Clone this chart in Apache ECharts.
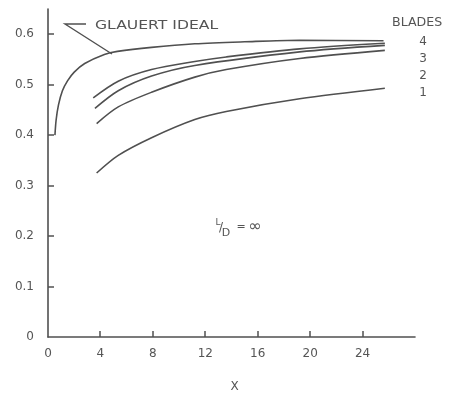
<!DOCTYPE html>
<html>
<head>
<meta charset="utf-8">
<script src="https://cdn.jsdelivr.net/npm/echarts@6/dist/echarts.min.js"></script>
<style>
  html, body { margin: 0; padding: 0; background: #fff; }
  #main { width: 460px; height: 398px; }
</style>
</head>
<body>
<div id="main"></div>
<script>
// values (x, efficiency)
const glauert = [[0.53, 0.400], [0.62, 0.430], [0.8, 0.460], [1.1, 0.488], [1.5, 0.508], [2.0, 0.525], [2.8, 0.542], [4.3, 0.560], [5.3, 0.566], [7.9, 0.574], [11.2, 0.581], [15, 0.585], [19.2, 0.588], [25.6, 0.587]];
const blades4 = [[3.45, 0.474], [5.36, 0.507], [7.9, 0.530], [11.2, 0.546], [13.6, 0.555], [19.2, 0.571], [25.7, 0.582]];
const blades3 = [[3.58, 0.453], [5.36, 0.488], [7.9, 0.517], [11.2, 0.538], [19.2, 0.565], [25.7, 0.578]];
const blades2 = [[3.71, 0.423], [5.36, 0.456], [7.9, 0.485], [11.2, 0.515], [13.6, 0.530], [19.2, 0.552], [25.7, 0.568]];
const blades1 = [[3.71, 0.325], [5.36, 0.360], [7.9, 0.395], [11.2, 0.431], [13.6, 0.447], [19.2, 0.472], [25.7, 0.493]];
const xTicks = [4, 8, 12, 16, 20, 24];
const yTicks = [0.1, 0.2, 0.3, 0.4, 0.5, 0.6];
const xLabels = [0, 4, 8, 12, 16, 20, 24];
const yLabels = [0, 0.1, 0.2, 0.3, 0.4, 0.5, 0.6];
const bladeNames = ['4', '3', '2', '1'];

const ink = '#505050';
const font = 'DejaVu Sans';

const chart = echarts.init(document.getElementById('main'));

function curve(name, data) {
  return {
    name: name,
    type: 'line',
    data: data,
    smooth: 0.3,
    showSymbol: false,
    lineStyle: { color: ink, width: 1.6 },
    silent: true
  };
}

// small text helper for the hand lettering
function txt(x, y, s, size, align) {
  return {
    type: 'text', x: x, y: y,
    style: { text: s, fill: '#555', font: size + 'px "' + font + '"', textAlign: align || 'left', textVerticalAlign: 'middle' }
  };
}

chart.setOption({
  animation: false,
  grid: { left: 48, right: 45, top: 9, bottom: 50 },
  xAxis: {
    type: 'value', min: 0, max: 28, interval: 4,
    name: 'X', nameLocation: 'middle', nameGap: 44,
    nameTextStyle: { color: '#555', fontSize: 12, fontFamily: font, padding: [0, 0, 0, 6] },
    splitLine: { show: false },
    axisLine: { onZero: false, lineStyle: { color: ink, width: 1.6 } },
    axisTick: { show: false },
    axisLabel: {
      color: '#555', fontSize: 12, fontFamily: font, margin: 11,
      formatter: v => xLabels.indexOf(v) >= 0 ? String(v) : ''
    }
  },
  yAxis: {
    type: 'value', min: 0, max: 0.65, interval: 0.1,
    splitLine: { show: false },
    axisLine: { show: true, onZero: false, lineStyle: { color: ink, width: 1.6 } },
    axisTick: { show: false },
    axisLabel: {
      color: '#555', fontSize: 12, fontFamily: font, margin: 14,
      formatter: v => {
        const r = Math.round(v * 100) / 100;
        if (yLabels.indexOf(r) < 0) return '';
        return r === 0 ? '0' : r.toFixed(1);
      }
    }
  },
  series: [
    curve('Glauert ideal', glauert),
    curve('4', blades4),
    curve('3', blades3),
    curve('2', blades2),
    curve('1', blades1)
  ]
});

const notes = [
  { type: 'polyline', shape: { points: [[86, 24], [65, 24], [112, 54]] }, style: { stroke: ink, lineWidth: 1.4, fill: null } },
  Object.assign(txt(95, 26, 'GLAUERT IDEAL', 12), { scaleX: 1.3 }),
  Object.assign(txt(392, 23, 'BLADES', 12), { scaleX: 1.05 }),
  txt(423, 42, bladeNames[0], 12, 'center'),
  txt(423, 59, bladeNames[1], 12, 'center'),
  txt(423, 76, bladeNames[2], 12, 'center'),
  txt(423, 93, bladeNames[3], 12, 'center'),
  txt(218, 223, 'L', 9, 'center'),
  txt(221, 228, '/', 12, 'center'),
  txt(226, 233, 'D', 11, 'center'),
  txt(241, 227, '=', 11, 'center'),
  txt(255, 227, '∞', 16, 'center')
];

// short inside ticks, placed through the chart's own scales
xTicks.forEach(v => {
  const p = chart.convertToPixel({ gridIndex: 0 }, [v, 0]);
  notes.push({ type: 'rect', shape: { x: Math.round(p[0]) - 0.75, y: p[1] - 6, width: 1.5, height: 6 }, style: { fill: ink }, z: 10 });
});
yTicks.forEach(v => {
  const p = chart.convertToPixel({ gridIndex: 0 }, [0, v]);
  notes.push({ type: 'rect', shape: { x: p[0], y: Math.round(p[1]) - 0.75, width: 6, height: 1.5 }, style: { fill: ink }, z: 10 });
});
chart.setOption({ graphic: notes });
</script>
</body>
</html>
